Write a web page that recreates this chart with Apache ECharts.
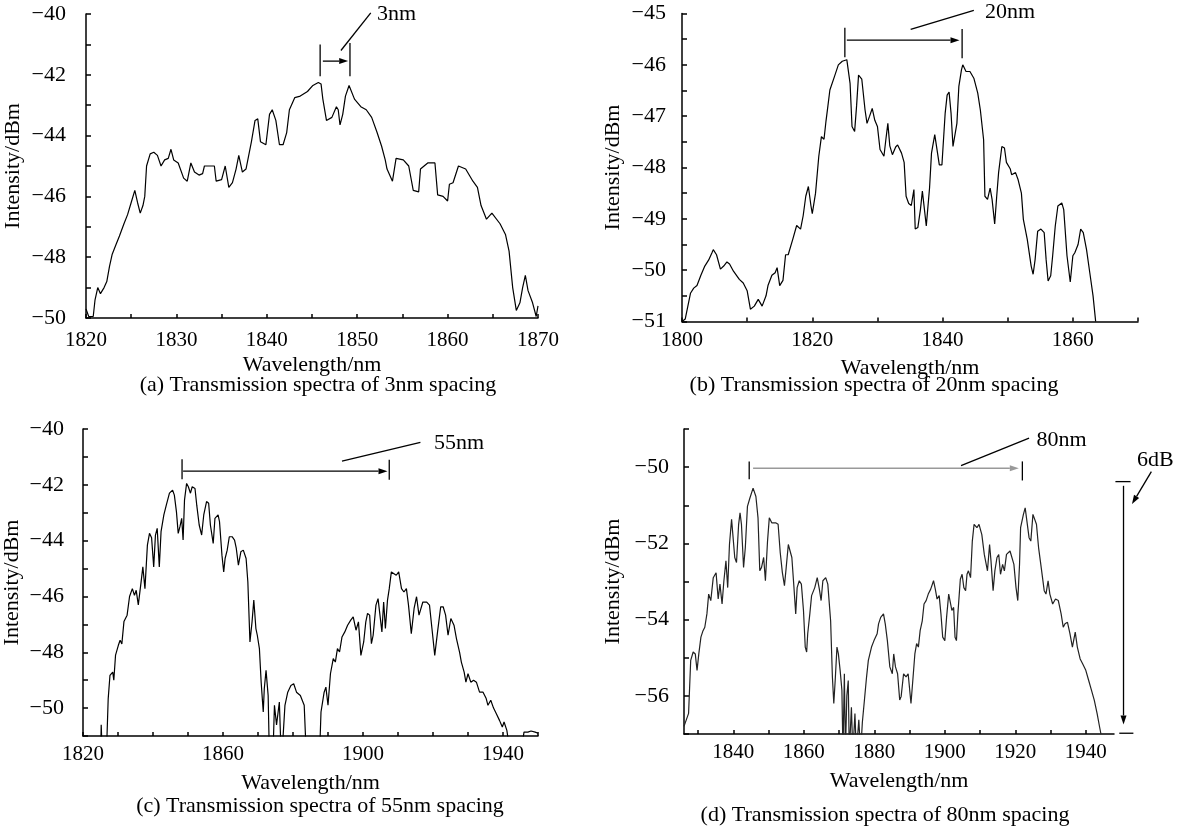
<!DOCTYPE html>
<html>
<head>
<meta charset="utf-8">
<script src="https://cdn.jsdelivr.net/npm/echarts@6/dist/echarts.min.js"></script>
<style>
  html, body { margin: 0; padding: 0; background: #fff; }
  #main { width: 1188px; height: 831px; }
</style>
</head>
<body>
<div id="main"></div>
<script>
// (a) 3nm spacing
let aX = [1820.0,1820.3,1820.8,1821.0,1821.3,1821.6,1822.0,1822.3,1822.6,1822.9,1823.3,1823.7,1824.2,1824.6,1825.0,1825.4,1825.7,1826.0,1826.3,1826.5,1826.7,1827.1,1827.5,1827.9,1828.3,1828.7,1829.1,1829.4,1829.7,1830.2,1830.8,1831.2,1831.6,1832.0,1832.5,1832.9,1833.1,1834.2,1834.4,1835.0,1835.4,1835.8,1836.2,1836.6,1836.9,1837.3,1837.7,1838.3,1838.7,1839.0,1839.3,1839.9,1840.3,1840.6,1841.0,1841.4,1841.8,1842.2,1842.5,1843.1,1843.7,1844.5,1845.1,1845.7,1846.0,1846.2,1846.6,1847.2,1847.4,1847.7,1847.9,1848.1,1848.4,1848.7,1849.1,1849.7,1850.4,1851.0,1851.6,1852.2,1852.7,1853.1,1853.3,1853.9,1854.3,1855.1,1855.7,1856.2,1856.8,1857.0,1857.8,1858.6,1858.9,1859.5,1860.0,1860.2,1860.6,1861.2,1862.0,1862.8,1863.3,1863.7,1864.3,1864.9,1865.8,1866.4,1866.8,1867.2,1867.6,1868.0,1868.3,1868.6,1868.9,1869.4,1869.8,1870.0]
let aY = [-49.7,-49.95,-49.95,-49.4,-49.0,-49.2,-49.0,-48.8,-48.3,-47.9,-47.6,-47.3,-46.9,-46.6,-46.2,-45.8,-46.2,-46.55,-46.3,-46.0,-45.0,-44.6,-44.55,-44.65,-45.0,-44.8,-44.75,-44.45,-44.8,-44.9,-45.4,-45.5,-44.9,-45.2,-45.3,-45.25,-45.0,-45.0,-45.5,-45.45,-45.0,-45.7,-45.55,-45.1,-44.65,-45.2,-45.1,-44.2,-43.5,-43.45,-44.2,-44.3,-43.3,-43.15,-43.5,-44.3,-44.3,-43.9,-43.15,-42.75,-42.7,-42.55,-42.35,-42.25,-42.3,-42.8,-43.5,-43.4,-43.35,-43.05,-43.15,-43.65,-43.3,-42.7,-42.35,-42.8,-43.05,-43.15,-43.4,-43.9,-44.35,-44.8,-45.1,-45.5,-44.75,-44.8,-45.0,-45.8,-45.85,-45.1,-44.9,-44.9,-45.95,-46.0,-46.15,-45.6,-45.55,-45.0,-45.1,-45.5,-45.7,-46.3,-46.75,-46.55,-46.9,-47.25,-47.8,-49.0,-49.75,-49.5,-49.0,-48.6,-49.1,-49.5,-49.95,-49.6]

// (b) 20nm spacing
let bX = [1800.0,1800.5,1801.3,1801.8,1802.3,1802.9,1803.5,1804.1,1804.6,1804.8,1805.3,1805.9,1806.4,1806.9,1807.3,1807.9,1808.8,1809.4,1810.0,1810.5,1811.1,1811.7,1812.3,1812.9,1813.2,1813.8,1814.3,1814.6,1815.0,1815.5,1815.9,1816.3,1817.0,1817.6,1818.2,1818.6,1819.0,1819.4,1819.8,1820.0,1820.5,1821.0,1821.4,1821.8,1822.1,1822.4,1822.7,1823.4,1824.0,1824.6,1825.3,1825.8,1826.1,1826.5,1826.8,1827.1,1827.6,1828.1,1828.4,1828.8,1829.2,1829.6,1830.0,1830.4,1831.0,1831.3,1831.6,1831.9,1832.3,1832.8,1833.1,1833.7,1834.1,1834.4,1834.8,1835.2,1835.6,1835.8,1836.2,1836.6,1836.9,1837.2,1837.5,1838.0,1838.3,1838.8,1839.1,1839.5,1839.9,1840.4,1840.7,1841.0,1841.3,1841.6,1841.9,1842.2,1842.5,1842.9,1843.1,1843.6,1844.2,1844.8,1845.4,1845.8,1846.3,1846.5,1846.9,1847.3,1847.6,1848.0,1848.3,1848.6,1849.1,1849.5,1849.8,1850.4,1850.6,1851.2,1851.6,1852.1,1852.4,1853.0,1853.6,1853.9,1854.2,1854.6,1855.1,1855.6,1855.9,1856.2,1856.6,1856.9,1857.3,1857.7,1858.3,1858.6,1859.1,1859.6,1860.0,1860.3,1860.8,1861.2,1861.6,1862.1,1862.6,1863.1,1863.5]
let bY = [-51.0,-50.95,-50.45,-50.35,-50.3,-50.1,-49.92,-49.8,-49.66,-49.6,-49.7,-49.98,-49.92,-49.84,-49.88,-50.02,-50.18,-50.25,-50.4,-50.76,-50.7,-50.57,-50.7,-50.5,-50.3,-50.1,-50.05,-49.95,-50.3,-50.2,-49.7,-49.7,-49.4,-49.13,-49.2,-48.94,-48.56,-48.37,-48.75,-48.9,-48.5,-47.78,-47.4,-47.45,-47.1,-46.8,-46.49,-46.23,-46.0,-45.93,-45.9,-46.36,-47.2,-47.3,-46.8,-46.2,-46.28,-46.88,-47.14,-47.0,-46.85,-47.08,-47.2,-47.65,-47.78,-47.45,-47.14,-47.58,-47.75,-47.6,-47.56,-47.72,-47.9,-48.56,-48.7,-48.74,-48.43,-49.2,-49.17,-48.82,-48.46,-48.43,-49.14,-48.4,-47.72,-47.36,-47.33,-47.95,-47.95,-46.94,-46.59,-46.53,-46.94,-47.59,-47.62,-47.14,-46.42,-46.1,-46.0,-46.13,-46.13,-46.26,-46.55,-46.88,-47.46,-48.56,-48.62,-48.4,-48.62,-49.1,-48.58,-48.1,-47.59,-47.62,-47.9,-48.03,-48.14,-48.1,-48.24,-48.5,-49.01,-49.4,-49.92,-50.08,-49.8,-49.24,-49.2,-49.27,-49.8,-50.21,-50.11,-49.72,-49.14,-48.75,-48.69,-48.82,-49.72,-50.23,-49.72,-49.66,-49.5,-49.2,-49.27,-49.6,-50.05,-50.5,-51.0]

// (c) 55nm spacing (values below -51 run off the bottom of the plot)
let cX = [1825.0,1825.2,1825.6,1826.6,1827.2,1827.7,1828.5,1828.8,1829.3,1830.1,1830.6,1831.1,1831.7,1832.6,1833.3,1834.1,1834.7,1835.2,1835.8,1836.6,1837.1,1837.7,1838.4,1839.0,1839.6,1840.2,1840.7,1841.2,1841.8,1842.3,1843.1,1843.8,1844.7,1845.6,1846.1,1846.7,1847.2,1847.7,1848.2,1848.6,1849.0,1849.6,1850.1,1850.7,1851.2,1852.0,1852.5,1853.2,1853.9,1854.5,1855.3,1855.9,1856.4,1857.2,1857.7,1858.6,1859.0,1859.7,1860.2,1860.6,1861.2,1861.8,1862.6,1863.3,1863.8,1864.4,1865.1,1865.8,1866.6,1867.1,1867.7,1868.3,1868.8,1869.4,1869.8,1870.4,1870.9,1871.5,1871.8,1872.3,1872.9,1873.3,1874.2,1874.7,1875.3,1876.1,1876.7,1877.2,1877.7,1878.5,1879.4,1880.2,1881.0,1882.1,1883.2,1883.9,1887.5,1888.0,1888.9,1889.4,1890.0,1890.7,1891.5,1892.1,1892.7,1893.3,1894.0,1894.8,1895.6,1896.5,1897.2,1898.0,1898.7,1899.4,1900.2,1900.8,1901.3,1901.9,1902.4,1902.9,1903.7,1904.3,1904.8,1905.4,1905.9,1906.4,1907.0,1907.5,1908.1,1908.6,1909.5,1910.2,1911.0,1911.7,1912.4,1913.0,1913.8,1914.6,1915.3,1916.0,1916.5,1917.1,1918.2,1919.0,1919.7,1920.5,1921.3,1922.2,1922.9,1923.6,1924.3,1925.1,1926.0,1926.7,1927.6,1928.1,1928.9,1929.4,1930.0,1930.8,1931.6,1932.4,1933.3,1934.3,1935.2,1935.7,1936.5,1937.3,1938.1,1939.0,1939.8,1940.3,1941.1,1941.7,1945.5,1946.0,1947.1,1948.0,1949.2,1950.0]
let cY = [-52,-50.6,-52,-52,-49.66,-48.83,-48.71,-49.0,-48.1,-47.75,-47.57,-47.7,-46.9,-46.67,-46.0,-45.72,-45.96,-45.78,-46.3,-45.48,-44.94,-45.72,-44.16,-43.74,-43.9,-44.94,-43.8,-43.56,-44.94,-43.68,-43.08,-42.73,-42.3,-42.19,-42.37,-42.97,-43.74,-43.5,-43.2,-43.98,-42.55,-41.95,-42.07,-42.3,-42.07,-42.13,-42.73,-43.44,-43.8,-43.08,-42.6,-42.66,-43.44,-44.1,-43.2,-43.08,-43.32,-44.52,-45.12,-44.64,-44.34,-43.86,-43.86,-43.98,-44.28,-44.88,-44.4,-44.34,-44.64,-45.48,-47.63,-46.91,-46.13,-47.15,-47.39,-47.87,-49.07,-50.14,-49.3,-48.65,-49.55,-52,-52,-49.9,-50.6,-49.78,-52,-52,-49.9,-49.43,-49.19,-49.13,-49.43,-49.55,-49.9,-52,-52,-50.14,-49.43,-49.25,-49.9,-48.77,-48.23,-48.35,-47.87,-47.99,-47.45,-47.27,-47.03,-46.85,-46.73,-47.21,-46.91,-48.11,-47.63,-46.91,-46.61,-46.67,-47.69,-47.39,-46.31,-46.08,-46.08,-47.27,-46.2,-47.15,-46.13,-45.72,-45.12,-45.06,-45.24,-45.12,-45.72,-45.84,-45.72,-46.31,-47.33,-46.43,-46.01,-46.67,-46.67,-46.2,-46.2,-46.31,-47.15,-48.11,-47.27,-46.37,-46.37,-46.67,-47.39,-46.79,-47.03,-47.51,-48.0,-48.35,-48.71,-49.07,-48.77,-49.07,-49.0,-49.07,-49.43,-49.43,-49.66,-49.9,-49.72,-50.0,-50.2,-50.44,-50.68,-50.5,-50.8,-51.3,-51.3,-50.86,-50.86,-50.82,-50.86,-50.9]

// (d) 80nm spacing (values below -57 run off the bottom of the plot)
let dX = [1826.0,1827.3,1827.9,1828.6,1829.2,1829.7,1830.2,1830.8,1831.4,1831.9,1832.5,1833.0,1833.6,1834.3,1835.1,1835.7,1836.2,1836.8,1837.3,1837.9,1838.4,1838.9,1839.5,1840.0,1840.4,1840.9,1841.5,1841.9,1842.3,1842.9,1843.4,1844.0,1844.7,1845.6,1846.4,1847.0,1847.5,1848.0,1848.6,1849.1,1849.7,1850.2,1850.9,1851.4,1852.0,1852.7,1853.3,1853.9,1854.5,1855.0,1855.6,1856.1,1856.6,1857.2,1857.7,1858.1,1858.7,1859.3,1859.9,1860.4,1860.8,1861.1,1861.7,1862.2,1863.1,1863.8,1864.4,1864.9,1865.4,1866.2,1866.8,1867.6,1868.1,1868.5,1868.9,1869.4,1869.8,1870.3,1870.8,1871.1,1871.5,1871.8,1872.2,1872.6,1872.9,1873.5,1873.9,1874.5,1874.9,1875.6,1876.1,1876.6,1877.2,1877.8,1878.3,1879.2,1879.9,1880.8,1881.2,1881.8,1882.6,1883.1,1883.7,1884.4,1885.1,1885.5,1886.0,1886.6,1887.2,1887.6,1888.3,1889.0,1889.6,1890.4,1891.0,1891.5,1892.0,1892.5,1893.0,1893.6,1894.1,1894.7,1895.3,1896.0,1896.8,1897.3,1897.8,1898.4,1898.9,1899.4,1900.0,1900.5,1901.1,1901.6,1902.0,1902.5,1902.9,1903.3,1903.7,1904.4,1904.9,1905.4,1905.9,1906.3,1906.7,1907.3,1907.8,1908.3,1909.1,1909.7,1910.5,1911.2,1912.1,1912.7,1913.1,1913.7,1914.2,1914.8,1915.3,1915.8,1916.4,1916.9,1917.5,1918.5,1919.0,1919.6,1920.2,1920.7,1921.2,1921.5,1922.3,1922.8,1923.3,1923.9,1924.4,1925.0,1925.5,1926.0,1926.6,1927.1,1927.6,1928.2,1928.7,1929.3,1929.8,1930.6,1931.4,1932.2,1933.0,1933.6,1934.1,1934.8,1935.5,1936.2,1937.0,1937.6,1938.4,1939.1,1940.0,1940.8,1941.6,1942.4,1943.2,1943.9,1944.3]
let dY = [-56.8,-56.46,-55.07,-54.85,-54.9,-55.33,-54.9,-54.46,-54.29,-54.2,-53.85,-53.33,-53.5,-52.9,-52.77,-53.46,-53.07,-53.59,-53.0,-52.46,-53.16,-52.03,-51.37,-51.42,-52.37,-52.5,-51.5,-51.2,-51.5,-52.63,-52.11,-51.03,-50.81,-50.55,-50.77,-51.33,-52.72,-52.63,-52.37,-52.98,-51.94,-51.33,-51.46,-51.5,-51.46,-51.5,-52.24,-52.76,-53.11,-52.63,-52.03,-52.07,-52.37,-53.16,-53.85,-53.16,-52.98,-53.07,-53.76,-54.72,-54.85,-54.37,-53.85,-53.37,-53.16,-52.9,-53.2,-53.5,-52.98,-52.9,-53.07,-54.03,-55.5,-56.2,-55.59,-54.72,-54.9,-55.33,-55.85,-57.5,-55.42,-57.5,-56.0,-55.6,-57.5,-56.3,-57.5,-56.46,-57.5,-56.63,-57.5,-56.7,-56.1,-55.5,-55.07,-54.72,-54.55,-54.37,-54.11,-53.94,-53.85,-54.11,-54.55,-55.24,-55.42,-54.9,-55.24,-55.42,-56.11,-56.02,-55.42,-55.5,-55.42,-56.2,-55.5,-54.9,-54.63,-54.72,-54.29,-54.03,-53.59,-53.5,-53.33,-53.2,-52.98,-53.2,-53.46,-53.37,-53.85,-54.46,-54.55,-53.94,-53.33,-53.33,-53.76,-53.68,-54.46,-54.55,-53.85,-52.94,-52.81,-53.16,-53.24,-52.81,-52.72,-52.9,-51.94,-51.5,-51.59,-51.5,-51.77,-52.29,-52.72,-52.03,-52.46,-53.24,-52.72,-52.37,-52.29,-52.81,-52.55,-52.72,-52.29,-52.2,-52.2,-52.55,-53.16,-53.5,-52.55,-51.59,-51.24,-51.07,-51.11,-51.85,-51.94,-51.24,-51.2,-51.5,-52.11,-52.46,-52.46,-53.24,-53.33,-52.98,-53.33,-53.59,-53.46,-53.5,-53.85,-54.2,-54.11,-54.07,-54.37,-54.72,-54.33,-54.72,-55.03,-55.16,-55.33,-55.59,-55.85,-56.11,-56.46,-56.81,-57.0]

let captions = ['(a) Transmission spectra of 3nm spacing','(b) Transmission spectra of 20nm spacing',
                '(c) Transmission spectra of 55nm spacing','(d) Transmission spectra of 80nm spacing']

let font = '"Liberation Serif","Times New Roman",serif'

function pairs(xs, ys) {
	let out = []
	for (let i = 0; i < xs.length; i++) out.push([xs[i], ys[i]])
	return out
}
function minus(v) { return String(v).replace('-', '\u2212') }

function makeX(idx, min, max, interval, step, margin, custom) {
	let ax = {
		gridIndex: idx, type: 'value', min: min, max: max,
		name: 'Wavelength/nm', nameLocation: 'middle', nameGap: 36,
		nameTextStyle: {color: '#000', fontFamily: font, fontSize: 22},
		axisLine: {show: true, onZero: false, lineStyle: {color: '#000', width: 1.5}},
		axisTick: {show: true, inside: true, length: 4, lineStyle: {color: '#000', width: 1.5}},
		axisLabel: {color: '#000', fontFamily: font, fontSize: 21, margin: margin,
			formatter: v => ((Math.round(v) - min) % step === 0 ? String(Math.round(v)) : '')},
		splitLine: {show: false}
	}
	if (custom) {
		ax.axisTick.customValues = custom.ticks
		ax.axisLabel.customValues = custom.labels
		ax.axisLabel.formatter = v => String(v)
	} else {
		ax.interval = interval
	}
	return ax
}
function makeY(idx, min, max, interval, step, gap, margin) {
	return {
		gridIndex: idx, type: 'value', min: min, max: max, interval: interval,
		name: 'Intensity/dBm', nameLocation: 'middle', nameGap: gap,
		nameTextStyle: {color: '#000', fontFamily: font, fontSize: 22},
		axisLine: {show: true, onZero: false, lineStyle: {color: '#000', width: 1.5}},
		axisTick: {show: true, inside: true, length: 5, lineStyle: {color: '#000', width: 1.5}},
		axisLabel: {color: '#000', fontFamily: font, fontSize: 22, margin: margin,
			formatter: v => (Math.abs(v % step) < 1e-6 ? minus(v) : '')},
		splitLine: {show: false}
	}
}
function makeSeries(idx, xs, ys, color) {
	return {
		type: 'line', xAxisIndex: idx, yAxisIndex: idx, data: pairs(xs, ys),
		showSymbol: false, symbol: 'none', clip: true, animation: false,
		lineStyle: {color: color, width: 1.2}
	}
}

let chart = echarts.init(document.getElementById('main'))
let dTicks = [], dLabels = []
for (let v = 1830; v <= 1940; v += 10) dTicks.push(v)
for (let v = 1840; v <= 1940; v += 20) dLabels.push(v)

chart.setOption({
	animation: false,
	grid: [
		{left: 86, top: 14, width: 452, height: 304},
		{left: 682, top: 13.5, width: 456, height: 308},
		{left: 83, top: 429, width: 455, height: 307},
		{left: 684, top: 429, width: 430, height: 305}
	],
	xAxis: [
		makeX(0, 1820, 1870, 5, 10, 12),
		makeX(1, 1800, 1870, 10, 20, 8),
		makeX(2, 1820, 1950, 10, 40, 8),
		makeX(3, 1826, 1948, 10, 20, 8, {ticks: dTicks, labels: dLabels})
	],
	yAxis: [
		makeY(0, -50, -40, 1, 2, 62, 20),
		makeY(1, -51, -45, 0.5, 1, 58, 16),
		makeY(2, -51, -40, 1, 2, 60, 19),
		makeY(3, -57, -49, 1, 2, 60, 15)
	],
	series: [
		makeSeries(0, aX, aY, '#000'),
		makeSeries(1, bX, bY, '#000'),
		makeSeries(2, cX, cY, '#000'),
		makeSeries(3, dX, dY, '#222')
	]
})

// annotations, given in each panel's data coordinates
function P(g, x, y) { return chart.convertToPixel({gridIndex: g}, [x, y]) }
function seg(g, x1, y1, x2, y2, color) {
	let a = P(g, x1, y1), b = P(g, x2, y2)
	return {type: 'line', shape: {x1: a[0], y1: a[1], x2: b[0], y2: b[1]},
		style: {stroke: color || '#000', lineWidth: 1.3}, silent: true}
}
function arrow(g, x1, y1, x2, y2, color) {
	let a = P(g, x1, y1), b = P(g, x2, y2)
	let dx = b[0] - a[0], dy = b[1] - a[1], len = Math.sqrt(dx * dx + dy * dy)
	let ux = dx / len, uy = dy / len, hl = 9, hw = 3
	let bx = b[0] - ux * hl, by = b[1] - uy * hl
	return [
		{type: 'line', shape: {x1: a[0], y1: a[1], x2: bx, y2: by},
			style: {stroke: color || '#000', lineWidth: 1.3}, silent: true},
		{type: 'polygon', shape: {points: [[b[0], b[1]], [bx - uy * hw, by + ux * hw], [bx + uy * hw, by - ux * hw]]},
			style: {fill: color || '#000'}, silent: true}
	]
}
function label(g, x, y, text, align) {
	let a = P(g, x, y)
	return {type: 'text', x: a[0], y: a[1], silent: true,
		style: {text: text, fill: '#000', font: '22px ' + font, textAlign: align || 'left', textVerticalAlign: 'middle'}}
}

let els = []
// (a)
els.push(seg(0, 1845.9, -41.0, 1845.9, -42.05), seg(0, 1849.2, -40.95, 1849.2, -42.05))
els.push(...arrow(0, 1846.2, -41.55, 1849.0, -41.55))
els.push(seg(0, 1848.2, -41.2, 1851.5, -39.96), label(0, 1852.2, -40.02, '3nm'))
// (b)
els.push(seg(1, 1825.0, -45.28, 1825.0, -45.85), seg(1, 1843.0, -45.3, 1843.0, -45.87))
els.push(...arrow(1, 1825.3, -45.52, 1842.6, -45.52))
els.push(seg(1, 1835.1, -45.31, 1844.8, -44.94), label(1, 1846.5, -44.97, '20nm'))
// (c)
els.push(seg(2, 1848.3, -41.08, 1848.3, -41.8), seg(2, 1907.5, -41.1, 1907.5, -41.82))
els.push(...arrow(2, 1848.6, -41.51, 1907.0, -41.51))
els.push(seg(2, 1894.0, -41.15, 1916.4, -40.48), label(2, 1920.3, -40.51, '55nm'))
// (d)
els.push(seg(3, 1844.5, -49.85, 1844.5, -50.32), seg(3, 1922.0, -49.85, 1922.0, -50.35))
els.push(...arrow(3, 1845.6, -50.03, 1921.0, -50.03, '#999'))
els.push(seg(3, 1904.6, -49.96, 1923.9, -49.24), label(3, 1926.0, -49.29, '80nm'))
els.push(seg(3, 1948.4, -50.38, 1952.7, -50.38), seg(3, 1949.5, -56.98, 1953.5, -56.98))
els.push(...arrow(3, 1950.7, -50.49, 1950.7, -56.75))
els.push(...arrow(3, 1958.6, -50.12, 1953.1, -50.97), label(3, 1959.7, -49.83, '6dB', 'center'))

// captions
let capPos = [[318, 385], [874, 385], [320, 806], [885, 815]]
for (let i = 0; i < 4; i++) {
	els.push({type: 'text', x: capPos[i][0], y: capPos[i][1], silent: true,
		style: {text: captions[i], fill: '#000', font: '22px ' + font, textAlign: 'center', textVerticalAlign: 'middle'}})
}
chart.setOption({graphic: els})
</script>
</body>
</html>
